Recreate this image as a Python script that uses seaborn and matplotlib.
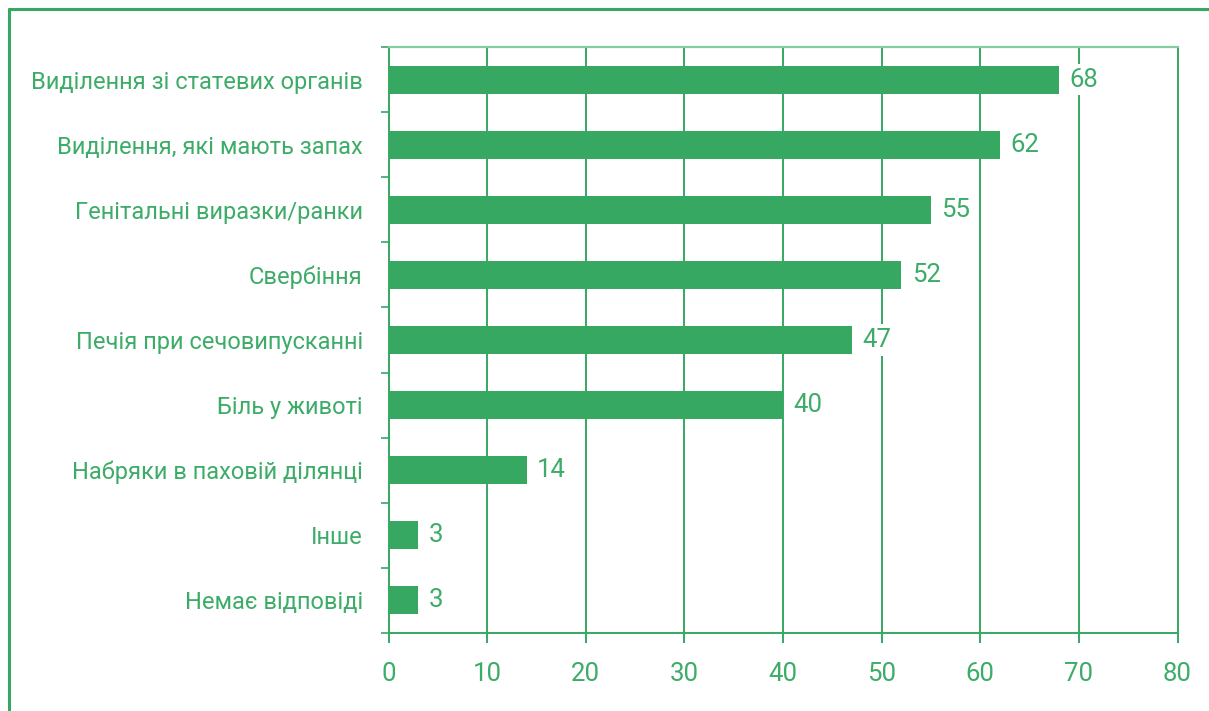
import matplotlib
matplotlib.use("Agg")
import matplotlib.pyplot as plt
from matplotlib.lines import Line2D
import seaborn as sns
import pandas as pd

symptoms = [
    "Виділення зі статевих органів",
    "Виділення, які мають запах",
    "Генітальні виразки/ранки",
    "Свербіння",
    "Печія при сечовипусканні",
    "Біль у животі",
    "Набряки в паховій ділянці",
    "Інше",
    "Немає відповіді",
]
percent = [68, 62, 55, 52, 47, 40, 14, 3, 3]
x_ticks = [0, 10, 20, 30, 40, 50, 60, 70, 80]

GREEN = "#36a862"
TEXT = "#3dac68"
LIGHT = "#86cc9f"

sns.set_theme(style="white")
plt.rcParams["font.family"] = ["Roboto", "DejaVu Sans"]

df = pd.DataFrame({"symptom": symptoms, "percent": percent})

fig = plt.figure(figsize=(12.09, 7.11), dpi=100)
left, right = 388.5 / 1209, 1177.5 / 1209
bottom, top = 1 - 633 / 711, 1 - 47 / 711
ax = fig.add_axes([left, bottom, right - left, top - bottom])

sns.barplot(data=df, y="symptom", x="percent", orient="h", color=GREEN,
            saturation=1, width=0.43, linewidth=0, edgecolor=GREEN,
            ax=ax, zorder=3)

ax.set_xlim(0, 80)
ax.set_ylim(len(symptoms) - 0.5, -0.5)
ax.set_xticks(x_ticks)
ax.set_xticklabels([str(t) for t in x_ticks])
ax.set_xlabel("")
ax.set_ylabel("")

# vertical grid
ax.xaxis.grid(True, color=GREEN, linewidth=1.4, zorder=0)
ax.yaxis.grid(False)
ax.set_axisbelow(True)

for side in ["left", "bottom", "right"]:
    ax.spines[side].set_visible(True)
    ax.spines[side].set_color(GREEN)
    ax.spines[side].set_linewidth(1.4)
ax.spines["top"].set_visible(True)
ax.spines["top"].set_color(LIGHT)
ax.spines["top"].set_linewidth(1.6)

# category boundary ticks on the left
ax.set_yticks([i - 0.5 for i in range(len(symptoms) + 1)], minor=True)
ax.tick_params(axis="y", which="minor", left=True, length=6, width=1.2,
               color=GREEN, direction="out")
ax.tick_params(axis="y", which="major", left=False, length=0, pad=18.5,
               labelsize=17, labelcolor=TEXT)
ax.tick_params(axis="x", which="major", bottom=True, length=7.5, width=1.4,
               color=GREEN, direction="out", pad=13.5, labelsize=18.5,
               labelcolor=TEXT)

# value labels with white backing over the grid
for i, v in enumerate(percent):
    ax.annotate(str(v), xy=(v, i), xytext=(7.5, 0), textcoords="offset points",
                ha="left", va="center", fontsize=18.5, color=TEXT, zorder=4,
                bbox=dict(boxstyle="square,pad=0.15", facecolor="white",
                          edgecolor="none"))

# outer frame on the left and top
fig.add_artist(Line2D([8.5 / 1209, 8.5 / 1209], [0, 1 - 9 / 711],
                      transform=fig.transFigure, color=GREEN, linewidth=2.2))
fig.add_artist(Line2D([8.5 / 1209, 1], [1 - 9 / 711, 1 - 9 / 711],
                      transform=fig.transFigure, color=GREEN, linewidth=2.2))

fig.savefig("out.png", dpi=100, facecolor="white")
